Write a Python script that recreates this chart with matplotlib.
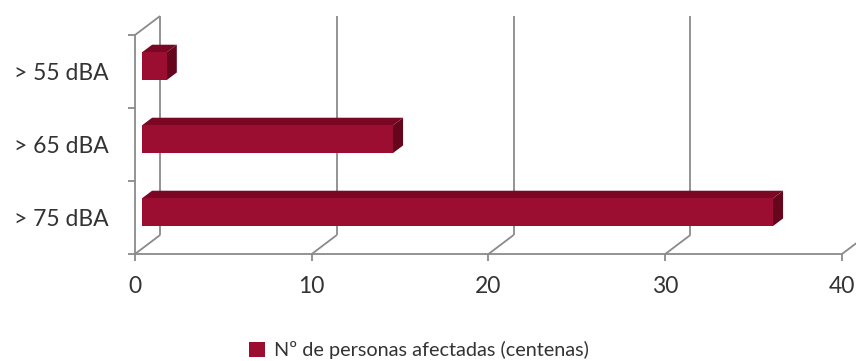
import matplotlib.pyplot as plt
from matplotlib.patches import Polygon, Patch

categorias = ['> 75 dBA', '> 65 dBA', '> 55 dBA']
personas = [35.7, 14.2, 1.4]
ticks_x = [0, 10, 20, 30, 40]
leyenda = 'Nº de personas afectadas (centenas)'

c_frente = '#9c0d32'
c_arriba = '#7a0824'
c_lado = '#66061d'
c_rejilla = '#8a8a8a'

plt.rcParams['font.family'] = ['Lato', 'DejaVu Sans']

fig = plt.figure(figsize=(8.56, 3.61), dpi=100)
ax = fig.add_axes([135 / 856, 107 / 361, 707 / 856, 219 / 361])
ax.set_xlim(0, 40)
ax.set_ylim(0, 3)

# profundidad oblicua (en unidades de datos)
dx, dy = 1.42, 0.26
f1, f2 = 0.28, 0.68
alto = 0.38

def linea(x, y, **kw):
    ax.plot(x, y, color=c_rejilla, lw=1.3, clip_on=False, solid_capstyle='butt', **kw)

# rejilla: suelo y pared del fondo
for v in ticks_x:
    linea([v, v + dx], [0, dy], zorder=1)
    linea([v + dx, v + dx], [dy, 3 + dy], zorder=1)
linea([0, dx], [3, 3 + dy], zorder=1)

# barras 3D
for i, val in enumerate(personas):
    y0 = i + 0.5 - alto / 2
    y1 = y0 + alto
    ox1, oy1 = f1 * dx, f1 * dy
    ox2, oy2 = f2 * dx, f2 * dy
    frente = [(ox1, y0 + oy1), (val + ox1, y0 + oy1), (val + ox1, y1 + oy1), (ox1, y1 + oy1)]
    arriba = [(ox1, y1 + oy1), (val + ox1, y1 + oy1), (val + ox2, y1 + oy2), (ox2, y1 + oy2)]
    lado = [(val + ox1, y0 + oy1), (val + ox2, y0 + oy2), (val + ox2, y1 + oy2), (val + ox1, y1 + oy1)]
    ax.add_patch(Polygon(arriba, closed=True, fc=c_arriba, ec='none', zorder=2, clip_on=False))
    ax.add_patch(Polygon(lado, closed=True, fc=c_lado, ec='none', zorder=2, clip_on=False))
    ax.add_patch(Polygon(frente, closed=True, fc=c_frente, ec='none', zorder=3, clip_on=False))

for s in ['top', 'right']:
    ax.spines[s].set_visible(False)
for s in ['left', 'bottom']:
    ax.spines[s].set_color(c_rejilla)
    ax.spines[s].set_linewidth(1.3)

ax.set_xticks(ticks_x)
ax.set_xticklabels([str(t) for t in ticks_x], fontsize=16.5, color='#333333')
ax.tick_params(axis='x', length=5, width=1.3, color=c_rejilla, pad=11)

ax.set_yticks([0, 1, 2, 3])
ax.set_yticklabels([])
ax.set_yticks([0.5, 1.5, 2.5], minor=True)
ax.set_yticklabels(categorias, minor=True, fontsize=16.5, color='#333333')
ax.tick_params(axis='y', which='major', length=5, width=1.3, color=c_rejilla)
ax.tick_params(axis='y', which='minor', length=0, pad=19)

fig.legend(handles=[Patch(fc=c_frente, ec='none', label=leyenda)],
           loc='center', bbox_to_anchor=(419 / 856, 1 - 350 / 361),
           frameon=False, fontsize=14.3, handlelength=0.8, handleheight=0.8,
           handletextpad=0.45, labelcolor='#333333')

fig.savefig('out.png', dpi=100)
